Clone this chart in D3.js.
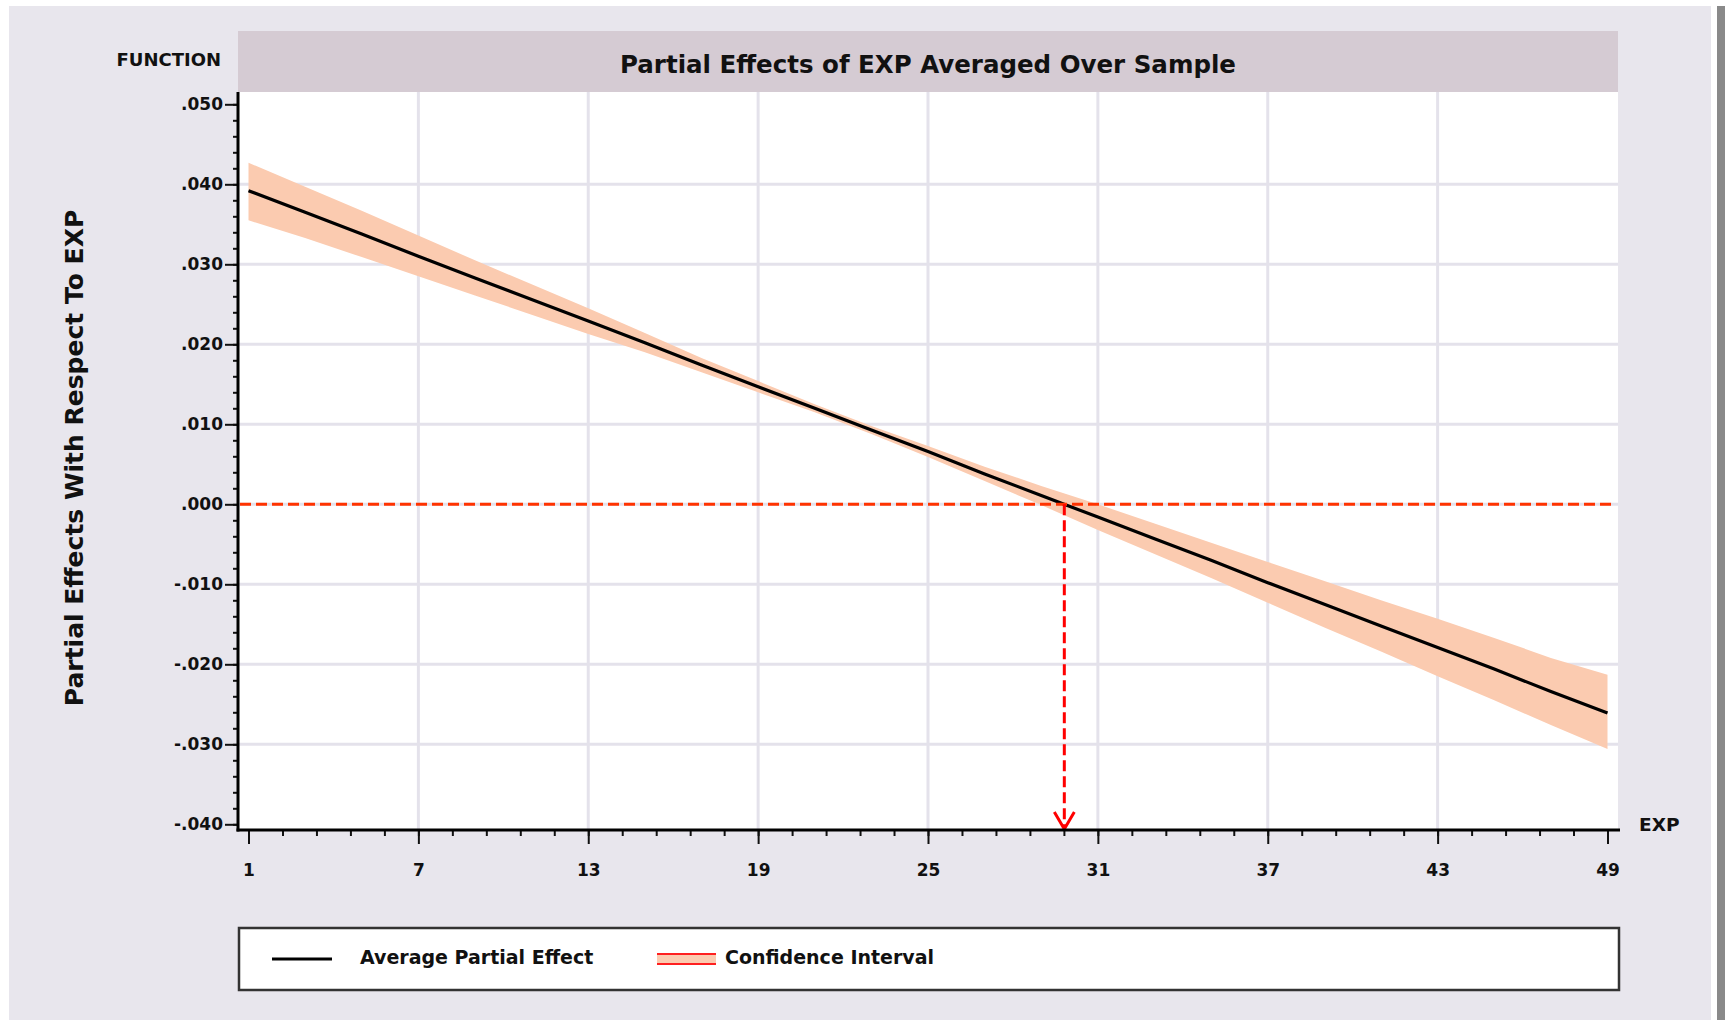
<!DOCTYPE html>
<html>
<head>
<meta charset="utf-8">
<title>Partial Effects of EXP Averaged Over Sample</title>
<script src="https://d3js.org/d3.v7.min.js"></script>
<style>
  body { margin: 0; background: #fff; }
  text { font-family: "DejaVu Sans", Verdana, sans-serif; font-weight: bold; fill: #111; }
</style>
</head>
<body>
<svg width="1725" height="1020"></svg>
<script>

// values
var exp   = [1, 3, 5, 7, 9, 11, 13, 15, 17, 19, 21, 23, 25, 27, 29, 31, 33, 35, 37, 39, 41, 43, 45, 47, 49];
var ape   = [0.0392, 0.0365, 0.0338, 0.0310, 0.0283, 0.0256, 0.0229, 0.0202, 0.0174, 0.0147, 0.0120, 0.0093, 0.0066,
             0.0038, 0.0011, -0.0016, -0.0043, -0.0070, -0.0098, -0.0125, -0.0152, -0.0179, -0.0206, -0.0234, -0.0261];
var lower = [0.0355, 0.0333, 0.0309, 0.0285, 0.0261, 0.0237, 0.0213, 0.0190, 0.0165, 0.0140, 0.0115, 0.0088, 0.0059,
             0.0029, -0.0001, -0.0032, -0.0062, -0.0092, -0.0123, -0.0154, -0.0184, -0.0215, -0.0245, -0.0276, -0.0306];
var upper = [0.0427, 0.0397, 0.0367, 0.0336, 0.0305, 0.0275, 0.0245, 0.0214, 0.0183, 0.0154, 0.0125, 0.0098, 0.0073,
             0.0047, 0.0023, 0.0000, -0.0024, -0.0048, -0.0072, -0.0096, -0.0120, -0.0143, -0.0167, -0.0192, -0.0213];

var xTicks = [1, 7, 13, 19, 25, 31, 37, 43, 49];
var yTicks = [0.05, 0.04, 0.03, 0.02, 0.01, 0, -0.01, -0.02, -0.03, -0.04];
var yTickLabels = [".050", ".040", ".030", ".020", ".010", ".000", "-.010", "-.020", "-.030", "-.040"];
var xGrid = [7, 13, 19, 25, 31, 37, 43];
var yGrid = [0.04, 0.03, 0.02, 0.01, 0, -0.01, -0.02, -0.03];

var title = "Partial Effects of EXP Averaged Over Sample";
var yTitle = "Partial Effects With Respect To EXP";
var legendNames = ["Average Partial Effect", "Confidence Interval"];

var data = exp.map(function(d, i) { return {x: d, y: ape[i], lo: lower[i], hi: upper[i]}; });

var svg = d3.select("svg");
var pLeft = 238, pRight = 1618, pTop = 92, pBottom = 830;

var x = d3.scaleLinear().domain([1, 49]).range([248.5, 1607.5]);
var y = d3.scaleLinear().domain([-0.04, 0.05]).range([824.3, 104.3]);

// frame
svg.append("rect").attr("x", 9).attr("y", 6).attr("width", 1702).attr("height", 1014).attr("fill", "#e8e6ed");
svg.append("rect").attr("x", 1717).attr("y", 6).attr("width", 8).attr("height", 1014).attr("fill", "#8a8a8a");

// title band
svg.append("rect").attr("x", pLeft).attr("y", 31).attr("width", pRight - pLeft).attr("height", pTop - 31).attr("fill", "#d5cbd3");
svg.append("text").attr("x", 928).attr("y", 73).attr("text-anchor", "middle").style("font-size", "24.5px").text(title);
svg.append("text").attr("x", 221).attr("y", 66).attr("text-anchor", "end").style("font-size", "18px").text("FUNCTION");

// plot area
svg.append("rect").attr("x", pLeft).attr("y", pTop).attr("width", pRight - pLeft).attr("height", pBottom - pTop).attr("fill", "#fff");

var g = svg.append("g");

g.selectAll(".vgrid").data(xGrid).enter().append("line")
  .attr("x1", d => x(d)).attr("x2", d => x(d)).attr("y1", pTop).attr("y2", pBottom)
  .attr("stroke", "#e4e2eb").attr("stroke-width", 3);
g.selectAll(".hgrid").data(yGrid).enter().append("line")
  .attr("x1", pLeft).attr("x2", pRight).attr("y1", d => y(d)).attr("y2", d => y(d))
  .attr("stroke", "#e4e2eb").attr("stroke-width", 3);

// confidence band
var area = d3.area().x(d => x(d.x)).y0(d => y(d.lo)).y1(d => y(d.hi));
g.append("path").datum(data).attr("d", area).attr("fill", "#fbcbb0");

// average partial effect
var line = d3.line().x(d => x(d.x)).y(d => y(d.y));
g.append("path").datum(data).attr("d", line).attr("fill", "none").attr("stroke", "#000").attr("stroke-width", 3.2);

// zero line and crossing arrow
g.append("line").attr("x1", pLeft + 2).attr("x2", pRight - 4).attr("y1", y(0)).attr("y2", y(0))
  .attr("stroke", "#ff3300").attr("stroke-width", 3).attr("stroke-dasharray", "11,5");

var k = ape.findIndex(d => d < 0);
var x0 = exp[k - 1] + (exp[k] - exp[k - 1]) * ape[k - 1] / (ape[k - 1] - ape[k]);
g.append("line").attr("x1", x(x0)).attr("x2", x(x0)).attr("y1", y(0)).attr("y2", pBottom - 3)
  .attr("stroke", "#ff0000").attr("stroke-width", 3).attr("stroke-dasharray", "11,5");
g.append("polyline")
  .attr("points", [[x(x0) - 10, pBottom - 18], [x(x0), pBottom - 1], [x(x0) + 10, pBottom - 18]].join(" "))
  .attr("fill", "none").attr("stroke", "#ff0000").attr("stroke-width", 3);

// axes
var yMinor = d3.range(-0.04, 0.0501, 0.002);
var xMinor = d3.range(1, 49.01, 1.2);

svg.append("g").attr("transform", "translate(" + pLeft + ",0)")
  .call(d3.axisLeft(y).tickValues(yMinor).tickSize(5).tickFormat(""));
svg.append("g").attr("transform", "translate(" + pLeft + ",0)")
  .call(d3.axisLeft(y).tickValues(yTicks).tickSize(13).tickPadding(2).tickFormat(function(d, i) { return yTickLabels[i]; }));
svg.append("g").attr("transform", "translate(0," + pBottom + ")")
  .call(d3.axisBottom(x).tickValues(xMinor).tickSize(6).tickFormat(""));
svg.append("g").attr("transform", "translate(0," + pBottom + ")")
  .call(d3.axisBottom(x).tickValues(xTicks).tickSize(14).tickPadding(20));

svg.selectAll(".domain").remove();
svg.selectAll(".tick line").attr("stroke", "#111").attr("stroke-width", 2);
svg.selectAll(".tick text").style("font-size", "17px").attr("fill", "#111")
  .style("font-family", "'DejaVu Sans', Verdana, sans-serif").style("font-weight", "bold");

svg.append("line").attr("x1", pLeft).attr("x2", pLeft).attr("y1", pTop).attr("y2", pBottom + 1.5)
  .attr("stroke", "#000").attr("stroke-width", 3);
svg.append("line").attr("x1", pLeft - 1.5).attr("x2", pRight + 2).attr("y1", pBottom).attr("y2", pBottom)
  .attr("stroke", "#000").attr("stroke-width", 3);

svg.append("text").attr("x", 1639).attr("y", 831).style("font-size", "18.5px").text("EXP");
svg.append("text").attr("transform", "translate(83,458) rotate(-90)").attr("text-anchor", "middle")
  .style("font-size", "25px").text(yTitle);

// legend
var lg = svg.append("g");
lg.append("rect").attr("x", 239).attr("y", 928).attr("width", 1380).attr("height", 62)
  .attr("fill", "#fff").attr("stroke", "#333").attr("stroke-width", 2.5);
lg.append("line").attr("x1", 272).attr("x2", 332).attr("y1", 959).attr("y2", 959).attr("stroke", "#000").attr("stroke-width", 3);
lg.append("text").attr("x", 360).attr("y", 964).style("font-size", "19px").text(legendNames[0]);
lg.append("rect").attr("x", 657).attr("y", 955).attr("width", 59).attr("height", 9).attr("fill", "#fbcbb0");
lg.append("line").attr("x1", 657).attr("x2", 716).attr("y1", 954).attr("y2", 954).attr("stroke", "#ff2020").attr("stroke-width", 2);
lg.append("line").attr("x1", 657).attr("x2", 716).attr("y1", 964).attr("y2", 964).attr("stroke", "#ff2020").attr("stroke-width", 2);
lg.append("text").attr("x", 725).attr("y", 964).style("font-size", "19px").text(legendNames[1]);

</script>
</body>
</html>
